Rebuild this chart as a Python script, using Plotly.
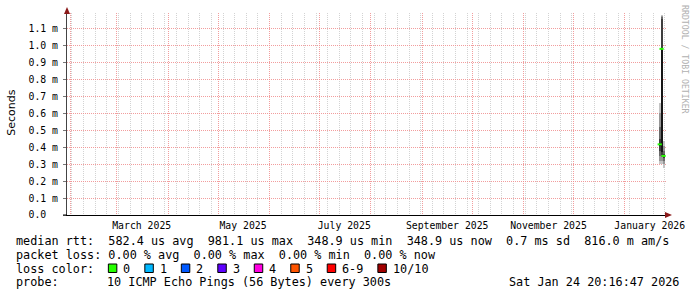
import plotly.graph_objects as go

# ---------------- data ----------------
bucket_times = ["2026-01-22 00:00", "2026-01-23 03:00", "2026-01-24 08:00"]
# sorted ping round-trip times (ms) for each time bucket (10 pings each)
pings_jan22 = [0.30, 0.32, 0.35, 0.38, 0.41, 0.425, 0.45, 0.52, 0.60, 0.66]
pings_jan23 = [0.30, 0.32, 0.34, 0.355, 0.37, 0.98, 1.16, 1.17, 1.175, 1.18]
pings_jan24 = [0.28, 0.30, 0.32, 0.335, 0.345, 0.352, 0.36, 0.38, 0.41, 0.44]
median_rtt = [0.4172, 0.9811, 0.3489]

y_tick_vals = [0.0, 0.1, 0.2, 0.3, 0.4, 0.5, 0.6, 0.7, 0.8, 0.9, 1.0, 1.1]
y_tick_text = ["0.0\u00a0\u00a0", "0.1 m", "0.2 m", "0.3 m", "0.4 m", "0.5 m",
               "0.6 m", "0.7 m", "0.8 m", "0.9 m", "1.0 m", "1.1 m"]
month_label_dates = ["2025-03-16", "2025-05-16", "2025-07-16", "2025-09-16",
                     "2025-11-16", "2026-01-16"]
month_labels = ["March 2025", "May 2025", "July 2025", "September 2025",
                "November 2025", "January 2026"]

loss_labels = ["0", "1", "2", "3", "4", "5", "6-9", "10/10"]
loss_colors = ["#26ff00", "#00b8ff", "#0059ff", "#5e00ff", "#ff00e1",
               "#ff5500", "#ff0000", "#a10000"]

legend_line1 = "median rtt:  582.4 us avg  981.1 us max  348.9 us min  348.9 us now  0.7 ms sd  816.0 m am/s"
legend_line2 = "packet loss: 0.00 % avg  0.00 % max  0.00 % min  0.00 % now"
probe_text = "10 ICMP Echo Pings (56 Bytes) every 300s"
stamp_text = "Sat Jan 24 20:16:47 2026"

# ---------------- layout helpers ----------------
W, H = 697, 297
ML, MR, MT, MB = 67, 29, 13, 82
PW, PH = W - ML - MR, H - MT - MB
X_RANGE = ["2025-01-30 00:00", "2026-01-25 19:00"]
Y_MAX = 1.193
MONO = "DejaVu Sans Mono"


def px(x):
    return (x - ML) / PW


def py(y):
    return (H - MB - y) / PH


fig = go.Figure()

# smoke bands: outer pairs light, inner pairs dark
shades = ["#c4c4c4", "#979797", "#6a6a6a", "#3e3e3e", "#151515"]
all_pings = [pings_jan22, pings_jan23, pings_jan24]
bar_w = 1.25 * 86400000
for i, shade in enumerate(shades):
    lo = [p[i] for p in all_pings]
    hi = [p[len(p) - 1 - i] for p in all_pings]
    fig.add_trace(go.Bar(
        x=bucket_times, base=lo, y=[h - l for h, l in zip(hi, lo)],
        width=[bar_w] * len(bucket_times), marker=dict(color=shade, line=dict(width=0)),
        hoverinfo="skip", showlegend=False))

# median line coloured by loss (0 loss -> green)
fig.add_trace(go.Scatter(
    x=bucket_times, y=median_rtt, mode="markers",
    marker=dict(symbol="line-ew", size=3, line=dict(width=2, color=loss_colors[0])),
    hoverinfo="skip", showlegend=False))

# invisible trace for the grid axis
fig.add_trace(go.Scatter(x=X_RANGE, y=[None, None], xaxis="x2", mode="lines",
                         showlegend=False, hoverinfo="skip"))

grid_major = "rgba(240,140,140,0.85)"
grid_minor = "rgba(200,200,200,0.8)"

fig.update_layout(
    width=W, height=H,
    margin=dict(l=ML, r=MR, t=MT, b=MB, pad=0),
    paper_bgcolor="white", plot_bgcolor="white",
    barmode="overlay", bargap=0,
    showlegend=False,
    font=dict(family=MONO, size=10, color="#000"),
    xaxis=dict(
        type="date", range=X_RANGE, tickvals=month_label_dates, ticktext=month_labels,
        showgrid=False, zeroline=False, ticks="", showline=True, linecolor="#000",
        linewidth=1, tickfont=dict(family=MONO, size=9.8, color="#000"),
        ticklabelstandoff=1, layer="above traces"),
    xaxis2=dict(
        type="date", range=X_RANGE, overlaying="x", anchor="y", side="bottom",
        showticklabels=False, ticks="", showline=False, zeroline=False,
        showgrid=True, dtick="M1", tick0="2025-01-01", gridcolor=grid_major,
        griddash="1px,1px", gridwidth=1,
        minor=dict(dtick=7 * 86400000, tick0="2025-03-02", showgrid=True,
                   gridcolor=grid_minor, griddash="1px,1px", gridwidth=1)),
    yaxis=dict(
        range=[0, Y_MAX], tickvals=y_tick_vals, ticktext=y_tick_text,
        showgrid=True, gridcolor=grid_major, griddash="1px,1px", gridwidth=1,
        zeroline=False, showline=True, linecolor="#444", linewidth=1,
        ticks="outside", ticklen=3, tickcolor="#777",
        tickfont=dict(family=MONO, size=9.8, color="#000"), ticklabelstandoff=3),
)

# axis arrows
arrow_col = "#8b1a1a"
fig.add_shape(type="path", xref="paper", yref="paper", xsizemode="pixel", ysizemode="pixel",
              xanchor=0, yanchor=1, path="M -3 -1 L 3 -1 L 0 6 Z",
              fillcolor=arrow_col, line=dict(width=0))
fig.add_shape(type="path", xref="paper", yref="paper", xsizemode="pixel", ysizemode="pixel",
              xanchor=1, yanchor=0, path="M -1 -3 L -1 3 L 6 0 Z",
              fillcolor=arrow_col, line=dict(width=0))
fig.add_shape(type="line", xref="paper", yref="paper", x0=px(63), x1=px(67), y0=0, y1=0,
              line=dict(color="#000", width=1))

# y title
fig.add_annotation(text="Seconds", xref="paper", yref="paper", x=px(10.5), y=py(113),
                   xanchor="center", yanchor="middle",
                   showarrow=False, textangle=-90,
                   font=dict(family="DejaVu Sans", size=11, color="#000"))
# watermark
fig.add_annotation(text="RRDTOOL / TOBI OETIKER", xref="paper", yref="paper",
                   x=px(687), y=py(60), xanchor="center", yanchor="middle",
                   showarrow=False, textangle=90,
                   font=dict(family=MONO, size=8.2, color="#b0b0b0"))

LF = dict(family=MONO, size=11.8, color="#000")


def text_at(t, x, y, anchor="left"):
    fig.add_annotation(text=t, xref="paper", yref="paper", x=px(x), y=py(y),
                       xanchor=anchor, yanchor="middle", showarrow=False, font=LF,
                       borderpad=0)


text_at(legend_line1.replace(" ", "\u00a0"), 15, 241)
text_at(legend_line2.replace(" ", "\u00a0"), 15, 255)
text_at("loss\u00a0color:", 15, 268.5)
text_at("probe:", 15, 282)
text_at(probe_text.replace(" ", "\u00a0"), 106, 282)
text_at(stamp_text.replace(" ", "\u00a0"), 682, 282, anchor="right")

# loss colour boxes
char_w = 7.1
bx = 108.5
for lab, col in zip(loss_labels, loss_colors):
    fig.add_shape(type="rect", xref="paper", yref="paper",
                  x0=px(bx), x1=px(bx + 8.5), y0=py(272.5), y1=py(264),
                  fillcolor=col, line=dict(color="#000", width=1))
    text_at(lab, bx + 14, 268.5)
    bx += 15 + len(lab) * char_w + 14.5

fig.write_html("out.html")
